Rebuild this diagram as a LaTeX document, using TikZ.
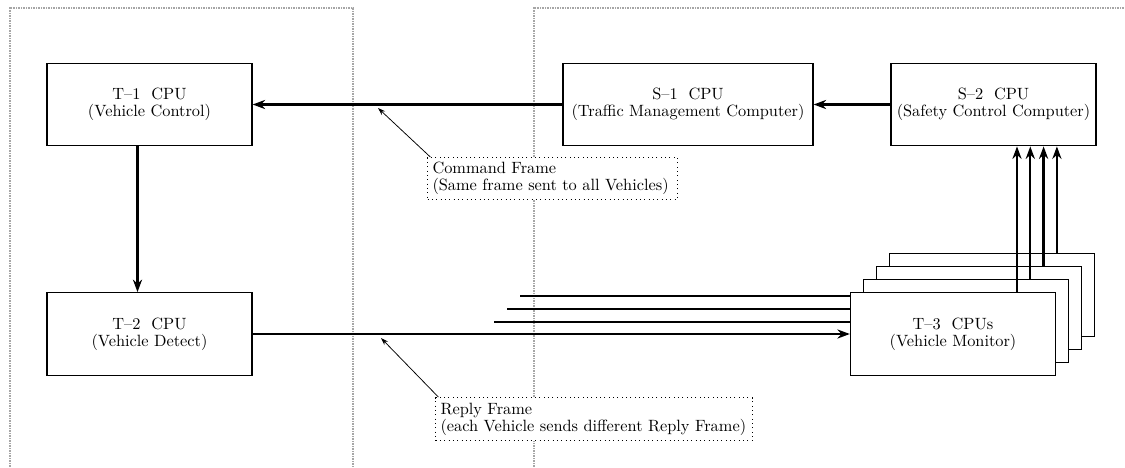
\documentclass[tikz,border=0pt]{standalone}
\usetikzlibrary{arrows.meta}
\begin{document}
\begin{tikzpicture}[x=0.6pt, y=-0.6pt,
  cpu/.style={draw, line width=0.8pt, fill=white, align=center, minimum width=123pt, minimum height=49.5pt, inner sep=0pt, font=\fontsize{9.8}{10.2}\selectfont},
  note/.style={draw, dotted, line width=0.6pt, fill=white, align=left, anchor=north west, inner xsep=3pt, inner ysep=2pt, font=\fontsize{9.8}{10.2}\selectfont},
  zone/.style={draw=gray!70, line width=1.4pt, dash pattern=on 0.5pt off 0.5pt},
  flow/.style={line width=1.4pt, -{Stealth[length=7.5pt,width=5.5pt]}},
  pointer/.style={line width=0.45pt, -{Stealth[length=4.5pt,width=3pt]}}]
\useasboundingbox (0,0) rectangle (1125,467);

% zones
\draw[zone] (10,467) -- (10,8) -- (353,8) -- (353,467);
\draw[zone] (534,467) -- (534,8) -- (1125,8);

% vehicle side
\node[cpu] (t1) at (149.5,104.5) {T--1~ CPU\\(Vehicle Control)};
\node[cpu] (t2) at (149.5,334) {T--2~ CPU\\(Vehicle Detect)};

% wayside
\node[cpu, minimum width=150pt] (s1) at (688,104.5) {S--1~ CPU\\(Traffic Management Computer)};
\node[cpu] (s2) at (993.5,104.5) {S--2~ CPU\\(Safety Control Computer)};

% T-3 stack
\foreach \i in {3,2,1}
  \node[cpu] (t3b\i) at (953+13*\i,334-13*\i) {};
\node[cpu] (t3) at (953,334) {T--3~ CPUs\\(Vehicle Monitor)};

% frames
\draw[flow] (s2.west) -- (s1.west -| s1.east);
\draw[flow] (s1.west) -- (t1.east);
\draw[flow] ([xshift=-7.2pt]t1.south) -- ([xshift=-7.2pt]t2.north);
\draw[flow] (t2.east) -- (t3.west);
\foreach \i/\xs/\ys in {1/520/296, 2/507/309, 3/494/322} {
  \coordinate (in\i) at (\xs,\ys);
  \draw[line width=1.4pt] (in\i) -- (in\i -| t3.west);
}
\foreach \i/\src in {0/t3, 1/t3b1, 2/t3b2, 3/t3b3} {
  \coordinate (up\i) at (1017+13.3*\i,0);
  \draw[flow] (\src.north -| up\i) -- (s2.south -| up\i);
}

% notes
\node[note, text width=144pt, minimum height=25pt] (cmd) at (427,157)
  {Command Frame\\(Same frame sent to all Vehicles)};
\node[note, text width=184pt, minimum height=26pt] (rep) at (435,397)
  {Reply Frame\\(each Vehicle sends different Reply Frame)};
\coordinate (cmdtip) at (378,108);
\coordinate (reptip) at (381,338);
\draw[pointer] ([xshift=2pt]cmd.north west) -- (cmdtip);
\draw[pointer] ([xshift=2pt]rep.north west) -- (reptip);
\end{tikzpicture}
\end{document}
